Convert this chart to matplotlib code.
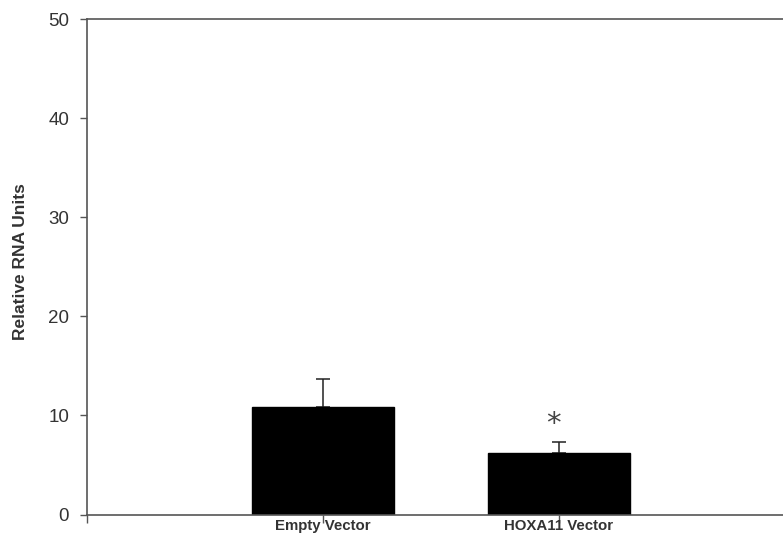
import matplotlib
matplotlib.use("Agg")
import matplotlib.pyplot as plt

categories = ["Empty Vector", "HOXA11 Vector"]
values = [10.88, 6.18]
errors = [2.8, 1.15]
yticks = [0, 10, 20, 30, 40, 50]
sig_label = "*"

plt.rcParams['font.family'] = ['Liberation Sans', 'DejaVu Sans']

W, H = 783, 538
fig = plt.figure(figsize=(W/100, H/100), dpi=100)
left_px, top_px, bottom_px = 86.5, 19, 514.5
ax_w_px = 800 - left_px
ax = fig.add_axes([left_px/W, (H-bottom_px)/H, ax_w_px/W, (bottom_px-top_px)/H])

unit = 236.0
positions = [1, 2]
ax.bar(positions, values, width=142/unit, color='black', edgecolor='black', zorder=2)
ax.errorbar(positions, values, yerr=[[0, 0], errors], fmt='none', ecolor='#222222',
            elinewidth=1.1, capsize=4.7, capthick=1.1, zorder=1)
ax.text(1.98, 9.15, sig_label, ha='center', va='center', fontsize=21, color='#444444',
        family=['DejaVu Sans'])

ax.set_xlim(0, ax_w_px/unit)
ax.set_ylim(0, 50)
ax.set_yticks(yticks)
ax.set_yticklabels([str(v) for v in yticks], fontsize=13.5, color='#333333')
ax.set_xticks([0] + positions)
ax.set_xticklabels([""] + categories, fontsize=10.8, fontweight='bold', color='#333333')
ax.tick_params(axis='y', direction='out', length=5, width=1, color='#555555', pad=7.5)
ax.tick_params(axis='x', direction='out', length=6, width=1, color='#555555', pad=-3)
ax.spines['right'].set_visible(False)
for s in ['left', 'top', 'bottom']:
    ax.spines[s].set_color('#555555')
    ax.spines[s].set_linewidth(1.2)
ax.set_ylabel("Relative RNA Units", fontsize=12.5, fontweight='bold', color='#333333')
ax.yaxis.set_label_coords(-(left_px - 28) / ax_w_px, 0.51)

fig.savefig("out.png", dpi=100)
